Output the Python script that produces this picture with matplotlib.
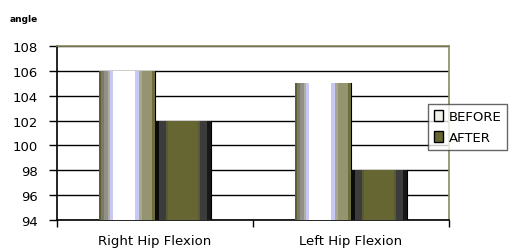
import numpy as np
import matplotlib
matplotlib.use("Agg")
import matplotlib.pyplot as plt
import matplotlib.patches as patches
from matplotlib.colors import ListedColormap

# data
categories = ["Right Hip Flexion", "Left Hip Flexion"]
before = [106, 105]
after = [102, 98]
series_names = ["BEFORE", "AFTER"]
y_ticks = [94, 96, 98, 100, 102, 104, 106, 108]
y_base = 94

# vertical stripe colours (left -> right) to mimic the old excel gradient fill
before_stripes = (["#5e5e30"] * 2 + ["#7a7a6a"] * 3 + ["#909088"] * 3 + ["#b0b0a0"] * 2
                  + ["#c8c8f4"] * 3 + ["#ffffff"] * 20 + ["#c8c8f4"] * 3 + ["#a8a890"] * 3
                  + ["#949470"] * 9 + ["#6e6e3c"] * 3)
after_stripes = (["#0c0c0c"] * 4 + ["#3c3c3c"] * 6 + ["#5a5a34"] * 2 + ["#666633"] * 28
                 + ["#5a5a34"] * 2 + ["#3c3c3c"] * 6 + ["#181818"] * 4)

plt.rcParams["font.family"] = ["DejaVu Sans"]

fig = plt.figure(figsize=(5.23, 2.53), dpi=100)
ax = fig.add_axes([57 / 523, 1 - 221 / 253, 392 / 523, 174 / 253])

x = np.arange(len(categories))
width = 0.285
offsets = [-width / 2, width / 2]

for vals, off, stripes in [(before, offsets[0], before_stripes), (after, offsets[1], after_stripes)]:
    cmap = ListedColormap(stripes)
    heights = [v - y_base for v in vals]
    bars = ax.bar(x + off, heights, width, bottom=y_base, color="none", edgecolor="none", zorder=3)
    for b in bars:
        x0, w = b.get_x(), b.get_width()
        top = b.get_y() + b.get_height()
        grad = np.linspace(0, 1, len(stripes)).reshape(1, -1)
        im = ax.imshow(grad, cmap=cmap, aspect="auto", extent=[x0, x0 + w, y_base, top],
                       interpolation="nearest", zorder=3)
        im.set_clip_path(b)
        ax.plot([x0 + w, x0 + w], [y_base, top], color="#000000", lw=0.8, zorder=2)

ax.set_xlim(-0.5, 1.5)
ax.set_ylim(94, 108)
ax.set_yticks(y_ticks)
ax.set_yticklabels([str(t) for t in y_ticks], fontsize=9.5)
ax.yaxis.grid(True, color="black", lw=1)
ax.set_axisbelow(True)

ax.set_xticks([-0.5, 0.5, 1.5])
ax.set_xticklabels([])
ax.tick_params(axis="x", length=5, width=1, direction="out")
ax.tick_params(axis="y", length=6, width=1, direction="out", pad=8)
for i, c in enumerate(categories):
    ax.text(x[i], -0.115, c, transform=ax.get_xaxis_transform(), ha="center", va="center",
            fontsize=9.5)

ax.spines["left"].set_color("black")
ax.spines["bottom"].set_color("black")
ax.spines["top"].set_color("#8a8a5c")
ax.spines["right"].set_color("#8a8a5c")
for s in ax.spines.values():
    s.set_linewidth(1.2)

fig.text(10 / 523, 1 - 19 / 253, "angle", fontsize=6.5, fontweight="bold", va="center")

handles = [patches.Patch(facecolor="#f2f2ea", edgecolor="black", lw=1),
           patches.Patch(facecolor="#666633", edgecolor="black", lw=1)]
leg = fig.legend(handles, series_names, loc="upper left", bbox_to_anchor=(428 / 523, 1 - 105 / 253),
                 frameon=True, fancybox=False, fontsize=9.5, handlelength=0.7, handleheight=0.9,
                 handletextpad=0.4, borderpad=0.45, labelspacing=0.6, borderaxespad=0)
leg.get_frame().set_edgecolor("#404040")
leg.get_frame().set_linewidth(1)

fig.savefig("out.png", dpi=100)
